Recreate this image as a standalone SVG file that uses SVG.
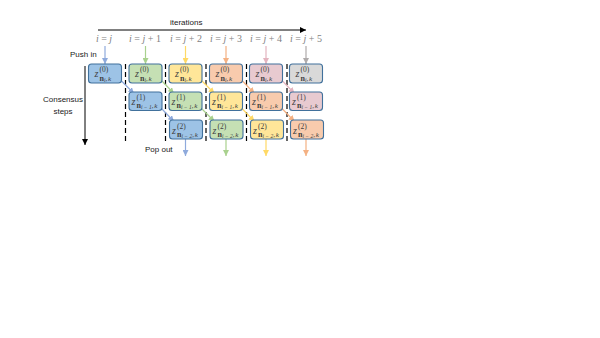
<svg xmlns="http://www.w3.org/2000/svg" width="600" height="338" viewBox="0 0 600 338">
<defs>
<style>
.lbl{font-family:"Liberation Sans",Arial,sans-serif;font-size:8px;fill:#1a1a1a}
.it{font-family:"Liberation Serif","Times New Roman",serif;font-size:10px;fill:#7f7f7f}
.it .v{font-style:italic}
.box{stroke:#41719C;stroke-width:1.1}
.z{font-family:"Liberation Serif","Times New Roman",serif;font-style:italic;font-size:10px;fill:#404040}
.sup{font-family:"Liberation Serif","Times New Roman",serif;font-size:7.5px;fill:#404040}
.sub{font-family:"Liberation Serif","Times New Roman",serif;font-style:italic;font-size:7px;fill:#404040}
.sub .bn{font-weight:bold;font-style:normal;font-size:8px}
.sub .ss{font-size:5.5px}
.fb{fill:#9DC3E6}.fg{fill:#C5E0B4}.fy{fill:#FFE699}.fo{fill:#F8CBAD}.fp{fill:#E8CAD0}.fx{fill:#D9D9D9}
.a{fill:none;stroke-width:1.2}
.lb{stroke:#8FAADC}.lg{stroke:#A9D18E}.ly{stroke:#FFD966}.lo{stroke:#F4B183}.lp{stroke:#E3B4BF}.lx{stroke:#AFABAB}
.dash{stroke:#000;stroke-width:1.2;stroke-dasharray:5,3;fill:none}
</style>
<marker id="mb" markerWidth="6" markerHeight="6" refX="6" refY="3" orient="auto" markerUnits="userSpaceOnUse"><path d="M0,0 L6,3 L0,6 z" fill="#8FAADC"/></marker>
<marker id="mg" markerWidth="6" markerHeight="6" refX="6" refY="3" orient="auto" markerUnits="userSpaceOnUse"><path d="M0,0 L6,3 L0,6 z" fill="#A9D18E"/></marker>
<marker id="my" markerWidth="6" markerHeight="6" refX="6" refY="3" orient="auto" markerUnits="userSpaceOnUse"><path d="M0,0 L6,3 L0,6 z" fill="#FFD966"/></marker>
<marker id="mo" markerWidth="6" markerHeight="6" refX="6" refY="3" orient="auto" markerUnits="userSpaceOnUse"><path d="M0,0 L6,3 L0,6 z" fill="#F4B183"/></marker>
<marker id="mp" markerWidth="6" markerHeight="6" refX="6" refY="3" orient="auto" markerUnits="userSpaceOnUse"><path d="M0,0 L6,3 L0,6 z" fill="#E3B4BF"/></marker>
<marker id="mx" markerWidth="6" markerHeight="6" refX="6" refY="3" orient="auto" markerUnits="userSpaceOnUse"><path d="M0,0 L6,3 L0,6 z" fill="#AFABAB"/></marker>
<marker id="mk" markerWidth="6" markerHeight="6" refX="6" refY="3" orient="auto" markerUnits="userSpaceOnUse"><path d="M0,0 L6,3 L0,6 z" fill="#000"/></marker>
</defs>
<rect width="600" height="338" fill="#fff"/>

<g id="axes">
<line x1="98" y1="30" x2="306" y2="30" stroke="#000" stroke-width="1" marker-end="url(#mk)"/>
<text class="lbl" x="170" y="25">iterations</text>
<line x1="85" y1="66" x2="85" y2="145" stroke="#000" stroke-width="1" marker-end="url(#mk)"/>
<text class="lbl" x="63" y="102" text-anchor="middle">Consensus</text>
<text class="lbl" x="63" y="114" text-anchor="middle">steps</text>
<text class="lbl" x="70" y="57">Push in</text>
<text class="lbl" x="145" y="152">Pop out</text>
</g>

<g id="labels">
<text class="it" x="104" y="42" text-anchor="middle"><tspan class="v">i</tspan> = <tspan class="v">j</tspan></text>
<text class="it" x="145" y="42" text-anchor="middle"><tspan class="v">i</tspan> = <tspan class="v">j</tspan> + 1</text>
<text class="it" x="186" y="42" text-anchor="middle"><tspan class="v">i</tspan> = <tspan class="v">j</tspan> + 2</text>
<text class="it" x="226" y="42" text-anchor="middle"><tspan class="v">i</tspan> = <tspan class="v">j</tspan> + 3</text>
<text class="it" x="266" y="42" text-anchor="middle"><tspan class="v">i</tspan> = <tspan class="v">j</tspan> + 4</text>
<text class="it" x="306" y="42" text-anchor="middle"><tspan class="v">i</tspan> = <tspan class="v">j</tspan> + 5</text>
</g>

<g id="separators">
<line class="dash" x1="125.5" y1="64" x2="125.5" y2="142"/>
<line class="dash" x1="165.5" y1="64" x2="165.5" y2="142"/>
<line class="dash" x1="206" y1="64" x2="206" y2="143"/>
<line class="dash" x1="246.5" y1="64" x2="246.5" y2="143"/>
<line class="dash" x1="287" y1="64" x2="287" y2="142"/>
</g>

<g id="connectors">
<line class="a lb" x1="105" y1="46" x2="105" y2="64" marker-end="url(#mb)"/>
<line class="a lg" x1="145.5" y1="46" x2="145.5" y2="64" marker-end="url(#mg)"/>
<line class="a ly" x1="185.5" y1="46" x2="185.5" y2="64" marker-end="url(#my)"/>
<line class="a lo" x1="226" y1="46" x2="226" y2="64" marker-end="url(#mo)"/>
<line class="a lp" x1="266" y1="46" x2="266" y2="64" marker-end="url(#mp)"/>
<line class="a lx" x1="306" y1="46" x2="306" y2="64" marker-end="url(#mx)"/>

<line class="a lb" x1="120.5" y1="80" x2="134" y2="93.5" marker-end="url(#mb)"/>
<line class="a lg" x1="161" y1="80" x2="174" y2="93.5" marker-end="url(#mg)"/>
<line class="a ly" x1="201" y1="80" x2="214.5" y2="93.5" marker-end="url(#my)"/>
<line class="a lo" x1="241.5" y1="80" x2="254.5" y2="93.5" marker-end="url(#mo)"/>
<line class="a lp" x1="281.5" y1="80" x2="294.5" y2="93.5" marker-end="url(#mp)"/>

<line class="a lb" x1="161" y1="108" x2="174" y2="121.5" marker-end="url(#mb)"/>
<line class="a lg" x1="201" y1="108" x2="214.5" y2="121.5" marker-end="url(#mg)"/>
<line class="a ly" x1="241.5" y1="108" x2="254.5" y2="121.5" marker-end="url(#my)"/>
<line class="a lo" x1="281.5" y1="108" x2="294.5" y2="121.5" marker-end="url(#mo)"/>

<line class="a lb" x1="185.5" y1="139" x2="185.5" y2="156" marker-end="url(#mb)"/>
<line class="a lg" x1="226" y1="139" x2="226" y2="156" marker-end="url(#mg)"/>
<line class="a ly" x1="266" y1="139" x2="266" y2="156" marker-end="url(#my)"/>
<line class="a lo" x1="306" y1="139" x2="306" y2="156" marker-end="url(#mo)"/>
</g>

<!-- row 0 -->
<g id="r0c0"><rect class="box fb" x="88.5" y="64" width="33" height="19" rx="3"/>
<text class="z" x="94.5" y="77">z</text><text class="sup" x="99.5" y="72">(0)</text>
<text class="sub" x="99.5" y="80.5"><tspan class="bn">n</tspan><tspan class="ss" dy="1.2">i</tspan><tspan dy="-1.2">,</tspan><tspan dx="0.8">k</tspan></text></g>
<g id="r0c1"><rect class="box fg" x="129" y="64" width="33" height="19" rx="3"/>
<text class="z" x="135" y="77">z</text><text class="sup" x="140" y="72">(0)</text>
<text class="sub" x="140" y="80.5"><tspan class="bn">n</tspan><tspan class="ss" dy="1.2">i</tspan><tspan dy="-1.2">,</tspan><tspan dx="0.8">k</tspan></text></g>
<g id="r0c2"><rect class="box fy" x="169" y="64" width="33" height="19" rx="3"/>
<text class="z" x="175" y="77">z</text><text class="sup" x="180" y="72">(0)</text>
<text class="sub" x="180" y="80.5"><tspan class="bn">n</tspan><tspan class="ss" dy="1.2">i</tspan><tspan dy="-1.2">,</tspan><tspan dx="0.8">k</tspan></text></g>
<g id="r0c3"><rect class="box fo" x="209.5" y="64" width="33" height="19" rx="3"/>
<text class="z" x="215.5" y="77">z</text><text class="sup" x="220.5" y="72">(0)</text>
<text class="sub" x="220.5" y="80.5"><tspan class="bn">n</tspan><tspan class="ss" dy="1.2">i</tspan><tspan dy="-1.2">,</tspan><tspan dx="0.8">k</tspan></text></g>
<g id="r0c4"><rect class="box fp" x="249.5" y="64" width="33" height="19" rx="3"/>
<text class="z" x="255.5" y="77">z</text><text class="sup" x="260.5" y="72">(0)</text>
<text class="sub" x="260.5" y="80.5"><tspan class="bn">n</tspan><tspan class="ss" dy="1.2">i</tspan><tspan dy="-1.2">,</tspan><tspan dx="0.8">k</tspan></text></g>
<g id="r0c5"><rect class="box fx" x="289.5" y="64" width="33" height="19" rx="3"/>
<text class="z" x="295.5" y="77">z</text><text class="sup" x="300.5" y="72">(0)</text>
<text class="sub" x="300.5" y="80.5"><tspan class="bn">n</tspan><tspan class="ss" dy="1.2">i</tspan><tspan dy="-1.2">,</tspan><tspan dx="0.8">k</tspan></text></g>

<!-- row 1 -->
<g id="r1c1"><rect class="box fb" x="129" y="92" width="33" height="18.5" rx="3"/>
<text class="z" x="131.5" y="105">z</text><text class="sup" x="136.5" y="100">(1)</text>
<text class="sub" x="136.5" y="108"><tspan class="bn">n</tspan><tspan class="ss" dy="1.2">i − 1</tspan><tspan dy="-1.2">,</tspan><tspan dx="0.8">k</tspan></text></g>
<g id="r1c2"><rect class="box fg" x="169" y="92" width="33" height="18.5" rx="3"/>
<text class="z" x="171.5" y="105">z</text><text class="sup" x="176.5" y="100">(1)</text>
<text class="sub" x="176.5" y="108"><tspan class="bn">n</tspan><tspan class="ss" dy="1.2">i − 1</tspan><tspan dy="-1.2">,</tspan><tspan dx="0.8">k</tspan></text></g>
<g id="r1c3"><rect class="box fy" x="209.5" y="92" width="33" height="18.5" rx="3"/>
<text class="z" x="212" y="105">z</text><text class="sup" x="217" y="100">(1)</text>
<text class="sub" x="217" y="108"><tspan class="bn">n</tspan><tspan class="ss" dy="1.2">i − 1</tspan><tspan dy="-1.2">,</tspan><tspan dx="0.8">k</tspan></text></g>
<g id="r1c4"><rect class="box fo" x="249.5" y="92" width="33" height="18.5" rx="3"/>
<text class="z" x="252" y="105">z</text><text class="sup" x="257" y="100">(1)</text>
<text class="sub" x="257" y="108"><tspan class="bn">n</tspan><tspan class="ss" dy="1.2">i − 1</tspan><tspan dy="-1.2">,</tspan><tspan dx="0.8">k</tspan></text></g>
<g id="r1c5"><rect class="box fp" x="289.5" y="92" width="33" height="18.5" rx="3"/>
<text class="z" x="292" y="105">z</text><text class="sup" x="297" y="100">(1)</text>
<text class="sub" x="297" y="108"><tspan class="bn">n</tspan><tspan class="ss" dy="1.2">i − 1</tspan><tspan dy="-1.2">,</tspan><tspan dx="0.8">k</tspan></text></g>

<!-- row 2 -->
<g id="r2c2"><rect class="box fb" x="169.5" y="120" width="33" height="19" rx="3"/>
<text class="z" x="172" y="133.5">z</text><text class="sup" x="177" y="128.5">(2)</text>
<text class="sub" x="177" y="136.5"><tspan class="bn">n</tspan><tspan class="ss" dy="1.2">i − 2</tspan><tspan dy="-1.2">,</tspan><tspan dx="0.8">k</tspan></text></g>
<g id="r2c3"><rect class="box fg" x="210" y="120" width="33" height="19" rx="3"/>
<text class="z" x="212.5" y="133.5">z</text><text class="sup" x="217.5" y="128.5">(2)</text>
<text class="sub" x="217.5" y="136.5"><tspan class="bn">n</tspan><tspan class="ss" dy="1.2">i − 2</tspan><tspan dy="-1.2">,</tspan><tspan dx="0.8">k</tspan></text></g>
<g id="r2c4"><rect class="box fy" x="250.5" y="120" width="33" height="19" rx="3"/>
<text class="z" x="253" y="133.5">z</text><text class="sup" x="258" y="128.5">(2)</text>
<text class="sub" x="258" y="136.5"><tspan class="bn">n</tspan><tspan class="ss" dy="1.2">i − 2</tspan><tspan dy="-1.2">,</tspan><tspan dx="0.8">k</tspan></text></g>
<g id="r2c5"><rect class="box fo" x="290.5" y="120" width="33" height="19" rx="3"/>
<text class="z" x="293" y="133.5">z</text><text class="sup" x="298" y="128.5">(2)</text>
<text class="sub" x="298" y="136.5"><tspan class="bn">n</tspan><tspan class="ss" dy="1.2">i − 2</tspan><tspan dy="-1.2">,</tspan><tspan dx="0.8">k</tspan></text></g>
</svg>
